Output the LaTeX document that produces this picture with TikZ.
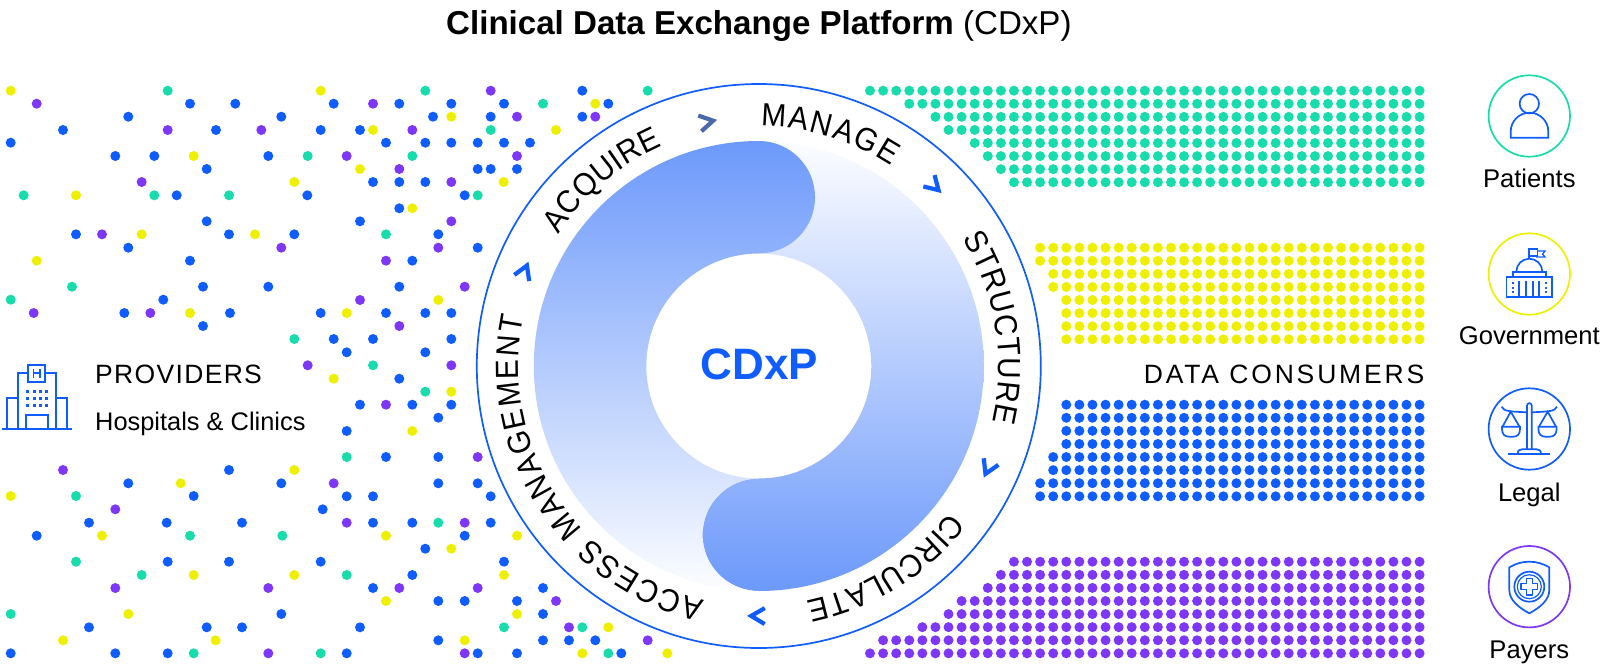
\documentclass[tikz,border=0pt]{standalone}
\usepackage{fontspec}
\usetikzlibrary{decorations.text}
\setmainfont{Liberation Sans}
\newfontfamily\wideA{Liberation Sans}[LetterSpace=5]
\newfontfamily\wideB{Liberation Sans}[LetterSpace=10.7]
\newfontfamily\ringfont{Liberation Sans}[FakeStretch=0.93]
\definecolor{cblue}{HTML}{0F5CFF}
\definecolor{cteal}{HTML}{17DCAB}
\definecolor{cyel}{HTML}{EEF000}
\definecolor{cpur}{HTML}{7F37F7}
\definecolor{cgrey}{HTML}{4A69AD}
\definecolor{bandtop}{HTML}{6C99FB}
\definecolor{bandlow}{HTML}{FCFDFF}
\newcommand{\ringtext}{\ringfont\fontsize{32}{32}\selectfont}
\tikzset{
  pix/.style={y=-1pt},
  icon/.style={draw=cblue,line width=1.7pt,line join=miter},
  ringline/.style={draw=cblue,line width=1.7pt,fill=white},
  chevronmark/.style={line width=4.2pt,line join=miter,miter limit=10},
  ringlabel/.style={decorate,decoration={text along path,text align=fit to path,text={|\ringtext|#1}}},
  lab/.style={anchor=base,inner sep=0pt,font=\fontsize{25.6}{25.6}\selectfont,text=black},
  bandleft/.style={shading=axis,top color=bandtop,bottom color=bandlow},
  bandright/.style={shading=axis,top color=bandlow,bottom color=bandtop},
}
\begin{document}
\begin{tikzpicture}[x=1pt,y=1pt]
\useasboundingbox (0,0) rectangle (1600,-664);
\begin{scope}[pix]
% scattered dots
\foreach \x/\y in {10.7/90.7,320.7/90.7,595.3/103.7,451.3/116.7,373/130,556/130,193.7/156,294.3/182,76/195.3,360/169,503.7/182,412.3/208.3,141.7/234.3,255/234.3,36.7/260.7,438.3/300,190/313,346.7/313,333.7/378.7,451.3/391.7,412.3/431,294.3/470,180.7/483.3,10.7/496,102/535.7,386/535.7,517/535.7,451.3/548.7,193.7/575,294.3/575,504/575,386/601,128.3/614,517/614,63/640.3,215.7/640.3,608.3/627.3,464.7/640.3,582.3/653.3,667.3/653.3}
  \fill[cyel] (\x,\y) circle (5);
\foreach \x/\y in {167.7/90.7,425.3/90.7,543/103.7,647.7/90.7,490.7/130,307.7/156,412.3/156,23.7/195.3,154.3/195.3,229/195.3,477.7/195.3,386/234.3,72/286.7,10.7/299.7,294.3/339,373/365.3,425.3/391.7,346.7/457,76/496,190/535.7,282.3/535.7,438.3/522.7,76/561.7,141.7/575,346.7/575,10.7/614,504/627.3,582.3/627.3,193.7/653.3,320.7/653.3,608.3/653.3}
  \fill[cteal] (\x,\y) circle (5);
\foreach \x/\y in {36.7/103.7,490.7/90.7,373/103.7,167.7/130,261.3/130,517/116.7,595.3/116.7,412.3/130,346.7/156,517/156,399.3/169,141.7/182,451.3/182,451.3/221.3,102/234.3,281.3/247.7,438.3/247.7,386/260.7,464.7/286.7,360/300,33.7/313,150.3/313,399.3/326,307.7/365.3,451.3/365.3,386/404.7,477.7/457,63/470,333.7/483.3,115.3/509.3,346.7/522.7,464.7/522.7,115.3/588,268.3/588,399.3/588,477.7/588,556/601,569/627.3,647.7/640.3,268.3/653.3,464.7/653.3}
  \fill[cpur] (\x,\y) circle (5);
\foreach \x/\y in {190/103.7,235.3/103.7,333.7/103.7,399.3/103.7,451.3/103.7,504/103.7,608.3/103.7,582.3/90.7,128.3/116.7,281.3/116.7,433/116.7,490.7/116.7,582.3/116.7,63/130,216/130,320.7/130,360/130,10.7/142.7,386/142.7,425.3/142.7,451.3/142.7,477.7/142.7,504/142.7,530/142.7,115.3/156,154.3/156,268.3/156,206.7/169,477.7/169,490.7/169,517/169,373/182,399.3/182,425.3/182,176.7/195.3,307.3/195.3,464.7/195.3,399.3/208.3,206.7/221.3,360/221.3,76/234.3,229/234.3,294.3/234.3,438.3/234.3,128.3/247.7,477.7/247.7,190/260.7,412.3/260.7,203/286.7,268.3/286.7,399.3/286.7,163.3/299.7,124.3/313,230/313,320.7/313,386/313,425.3/313,451.3/313,203/326,333.7/339,373/339,451.3/339,346.7/352.3,425.3/352.3,399.3/378.7,360/404.7,412.3/404.7,451.3/404.7,438.3/417.7,346.7/431,386/457,438.3/457,229/470,128.3/483.3,281.3/483.3,438.3/483.3,477.7/483.3,193.7/496,346.7/496.3,373/496.3,490.7/496.3,322.7/509.3,89/522.7,166.7/522.7,242/522.7,373/522.7,412.3/522.7,490.7/522.7,36.7/535.7,464.7/535.7,425.3/548.7,167.7/561.7,229/561.7,320.7/561.7,504/561.7,412.3/575,373/588,543/588,438.3/601,464.7/601,517/601,281.3/614,543/614,89/627.3,206.7/627.3,242/627.3,360/627.3,438.3/640.3,543/640.3,569/640.3,595.3/640.3,10.7/653.3,115.3/653.3,167.7/653.3,346.7/653.3,477.7/653.3,517/653.3,621.3/653.3}
  \fill[cblue] (\x,\y) circle (5);
% data-consumer dot fields: row/first column
\foreach \j/\s in {0/0,1/3,2/5,3/6,4/8,5/9,6/10,7/11}
  \foreach \k in {\s,...,42} \fill[cteal] ({870+13.085*\k},{90.67+13.085*\j}) circle (5);
\foreach \j/\s in {12/13,13/13,14/14,15/14,16/15,17/15,18/15,19/15}
  \foreach \k in {\s,...,42} \fill[cyel] ({870+13.085*\k},{90.67+13.085*\j}) circle (5);
\foreach \j/\s in {24/15,25/15,26/15,27/15,28/14,29/14,30/13,31/13}
  \foreach \k in {\s,...,42} \fill[cblue] ({870+13.085*\k},{90.67+13.085*\j}) circle (5);
\foreach \j/\s in {36/11,37/10,38/9,39/7,40/6,41/4,42/1,43/0}
  \foreach \k in {\s,...,42} \fill[cpur] ({870+13.085*\k},{90.67+13.085*\j}) circle (5);
\end{scope}
% ring
\begin{scope}[shift={(758.8,-366)}]
\fill[white] (0,0) circle (282);
\path[bandright] (0,-225) arc[start angle=-90,end angle=90,radius=225]
  arc[start angle=90,end angle=-90,radius=56.25]
  arc[start angle=90,end angle=-90,radius=112.5]
  arc[start angle=90,end angle=270,radius=56.25] -- cycle;
\path[bandleft] (0,225) arc[start angle=90,end angle=270,radius=225]
  arc[start angle=270,end angle=90,radius=56.25]
  arc[start angle=270,end angle=90,radius=112.5]
  arc[start angle=-90,end angle=90,radius=56.25] -- cycle;
\draw[ringline,fill=none] (0,0) circle (282);
\path[ringlabel=ACQUIRE] (146.7:240) arc[start angle=146.7,end angle=113.6,radius=240];
\path[ringlabel=MANAGE] (89.5:240) arc[start angle=89.5,end angle=56.5,radius=240];
\path[ringlabel=STRUCTURE] (32.2:240) arc[start angle=32.2,end angle=-13.5,radius=240];
\path[ringlabel=CIRCULATE] (-37.5:240) arc[start angle=-37.5,end angle=-78.5,radius=240];
\path[ringlabel={ACCESS MANAGEMENT}] (257:240) arc[start angle=257,end angle=168.2,radius=240];
\foreach \a/\r/\c in {101.7/249.5/cgrey,45.5/251.4/cblue,-24.3/251/cblue,-90.6/250/cblue,157.7/252.7/cblue}
  \draw[chevronmark,draw=\c,shift={(\a:\r)},rotate=\a-90] (-8.5,8) -- (5,0) -- (-8.5,-8);
\node[inner sep=0pt,text=cblue,font=\bfseries\fontsize{44}{44}\selectfont] (cdxp) at (0.7,2) {CDxP};
\end{scope}
\begin{scope}[pix]
% title
\node[anchor=base west,inner sep=0pt,font=\fontsize{33.1}{33.1}\selectfont] (title) at (446,34) {\textbf{Clinical Data Exchange Platform} (CDxP)};
% providers
\node[anchor=base west,inner sep=0pt,font=\wideA\fontsize{26.5}{26.5}\selectfont] (providers) at (95,383.3) {PROVIDERS};
\node[anchor=base west,inner sep=0pt,font=\fontsize{25.4}{25.4}\selectfont] (hospitals) at (95,430.7) {Hospitals \& Clinics};
\node[anchor=base east,inner sep=0pt,font=\wideB\fontsize{26.5}{26.5}\selectfont] (consumers) at (1424.5,383.3) {DATA CONSUMERS};
% hospital icon
\draw[icon] (1.7,429.3) -- (72.3,429.3);
\draw[icon] (7.3,429.3) -- (7.3,397.7) -- (17.7,397.7);
\draw[icon] (66.7,429.3) -- (66.7,397.7) -- (55.7,397.7);
\draw[icon] (17.7,429.3) -- (17.7,373.3) -- (55.7,373.3) -- (55.7,429.3);
\draw[icon,fill=white] (28.3,365) rectangle (45,381.7);
\draw[cblue,line width=1.5pt] (33.5,369) -- (33.5,377.5) (39.8,369) -- (39.8,377.5) (33.5,373.2) -- (39.8,373.2);
\draw[icon] (26,429.3) -- (26,415) -- (47.7,415) -- (47.7,429.3);
\foreach \x in {27.3,34,40.3,46.7} \foreach \y in {391.7,398.3,405}
  \fill[cblue] (\x-1.5,\y-1.5) rectangle (\x+1.5,\y+1.5);
% circles
\draw[cteal,line width=1.7pt] (1529.3,116) circle (40.7);
\draw[cyel,line width=1.7pt] (1529.3,274) circle (40.7);
\draw[cblue,line width=1.7pt] (1529.3,429) circle (40.7);
\draw[cpur,line width=1.7pt] (1529.3,586.7) circle (40.7);
\node[lab] (patients) at (1529.3,187.7) {Patients};
\node[lab] (government) at (1529.3,344.3) {Government};
\node[lab] (legal) at (1529.3,501.7) {Legal};
\node[lab] (payers) at (1529.3,658) {Payers};
% patient icon
\draw[icon] (1529.3,103.7) circle (9.7);
\draw[icon] (1510.7,137.7) -- (1510.7,131.5) arc[start angle=180,end angle=360,radius=18.8] -- (1548.3,137.7) -- cycle;
% government icon
\draw[icon] (1505.7,296.7) -- (1552.7,296.7);
\draw[icon] (1506.5,296.7) -- (1506.5,276.7) -- (1552,276.7) -- (1552,296.7);
\draw[icon] (1512.7,276.7) -- (1512.7,271.7) -- (1546,271.7) -- (1546,276.7);
\draw[icon] (1516.3,271.7) arc[start angle=180,end angle=360,radius=13];
\draw[icon] (1529.3,258.7) -- (1529.3,249) -- (1537.5,249) -- (1537.5,256) -- (1529.3,256);
\draw[icon,line width=1.3pt] (1537.5,251) -- (1545,251) -- (1542.5,254.2) -- (1545,257) -- (1536,257);
\foreach \x in {1519.3,1526,1532.7,1539.3} \draw[icon] (\x,280.7) -- (\x,296.7);
\foreach \x in {1512.7,1546} \foreach \y in {283,287.5,292}
  \fill[cblue] (\x-1,\y-1) rectangle (\x+1,\y+1);
% legal icon
\draw[icon] (1527,449.3) -- (1527,405.5) arc[start angle=180,end angle=360,radius=2.35] -- (1531.7,449.3);
\draw[icon] (1508.3,454.3) -- (1550.3,454.3);
\draw[icon] (1517.7,454.3) .. controls (1517.7,450.5) and (1519,449.3) .. (1522,449.3) -- (1536.5,449.3) .. controls (1539.5,449.3) and (1541,450.5) .. (1541,454.3);
\draw[icon] (1501.7,406.7) .. controls (1503.5,411.5) and (1510,411.5) .. (1527,412.3);
\draw[icon] (1556.9,406.7) .. controls (1555,411.5) and (1548.5,411.5) .. (1531.7,412.3);
\draw[icon] (1502.5,426.7) -- (1510.7,411.7) -- (1519.5,426.7);
\draw[icon] (1538.9,426.7) -- (1547.7,411.7) -- (1556,426.7);
\draw[icon] (1502,426.7) -- (1520,426.7) -- (1520,429) .. controls (1520,434.5) and (1517,436.7) .. (1513,436.7) -- (1509,436.7) .. controls (1505,436.7) and (1502,434.5) .. (1502,429) -- cycle;
\draw[icon] (1538.4,426.7) -- (1556.6,426.7) -- (1556.6,429) .. controls (1556.6,434.5) and (1553.6,436.7) .. (1549.6,436.7) -- (1545.4,436.7) .. controls (1541.4,436.7) and (1538.4,434.5) .. (1538.4,429) -- cycle;
% payers icon
\draw[icon,line join=round] (1509.3,567.3) .. controls (1516,563.5) and (1522,561.7) .. (1529.3,561.7) .. controls (1536.5,561.7) and (1542.5,563.5) .. (1549.3,567.3) -- (1549.3,590) .. controls (1549.3,600) and (1540,607.5) .. (1529.3,613.3) .. controls (1518.5,607.5) and (1509.3,600) .. (1509.3,590) -- cycle;
\draw[icon] (1529.3,586.7) circle (15);
\draw[icon,line width=1.2pt] (1529.3,586.7) circle (12);
\draw[icon,line width=1.4pt,line join=round] (1526.3,578.5) -- (1532.3,578.5) -- (1532.3,583.7) -- (1537.5,583.7) -- (1537.5,589.7) -- (1532.3,589.7) -- (1532.3,594.9) -- (1526.3,594.9) -- (1526.3,589.7) -- (1521.1,589.7) -- (1521.1,583.7) -- (1526.3,583.7) -- cycle;
\end{scope}
\end{tikzpicture}
\end{document}
